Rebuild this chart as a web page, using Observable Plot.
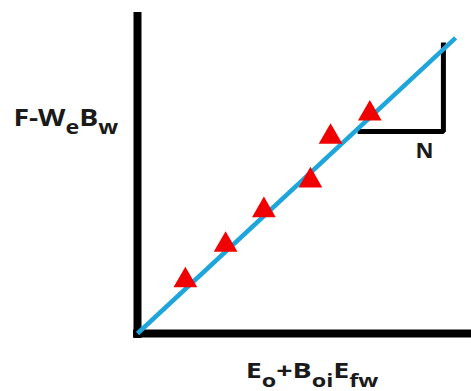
<!DOCTYPE html>
<html>
<head>
<meta charset="utf-8">
<script src="https://cdn.jsdelivr.net/npm/d3@7"></script>
<script src="https://cdn.jsdelivr.net/npm/@observablehq/plot@0.6"></script>
<style>
  html, body { margin: 0; padding: 0; background: #fff; }
  #chart svg { display: block; }
</style>
</head>
<body>
<div id="chart"></div>
<script>
// Data points (red triangles)
const pointX = [1.45, 2.67, 3.83, 5.24, 5.85, 7.04];
const pointY = [1.66, 2.77, 3.85, 4.78, 6.14, 6.87];
// Fitted straight line through origin
const fitX = [0, 9.64];
const fitY = [0, 9.24];
// Slope triangle (N)
const slopeX = [6.67, 9.27, 9.27];
const slopeY = [6.31, 6.31, 9.09];
// Labels split into [text, isSubscript]
const yLabelParts = [["F-W", 0], ["e", 1], ["B", 0], ["w", 1]];
const xLabelParts = [["E", 0], ["o", 1], ["+B", 0], ["oi", 1], ["E", 0], ["fw", 1]];
const slopeLabel = "N";

const points = pointX.map((x, i) => ({x, y: pointY[i]}));
const fit = fitX.map((x, i) => ({x, y: fitY[i]}));
const slope = slopeX.map((x, i) => ({x, y: slopeY[i]}));

const font = "'Open Sans', Lato, sans-serif";
const ink = "#1a1a1a";

const plot = Plot.plot({
  width: 471,
  height: 391,
  margin: 0,
  style: {background: "#fff", overflow: "visible"},
  x: {domain: [0, 10], range: [137, 467], axis: null},
  y: {domain: [0, 10], range: [333, 13], axis: null},
  marks: [
    Plot.ruleX([0], {y1: -0.16, y2: 10.03, stroke: "#000", strokeWidth: 8}),
    Plot.ruleY([0], {x1: -0.12, x2: 10.2, stroke: "#000", strokeWidth: 8}),
    Plot.line(slope, {x: "x", y: "y", stroke: "#000", strokeWidth: 5, strokeLinejoin: "miter", strokeLinecap: "butt"}),
    Plot.line(fit, {x: "x", y: "y", stroke: "#1ea6dc", strokeWidth: 4.5, strokeLinecap: "butt"}),
    Plot.dot(points, {x: "x", y: "y", symbol: "triangle", r: 8.8, fill: "#f00000", stroke: "none"}),
    Plot.text(["@N@"], {x: () => 8.70, y: () => 5.5, text: d => d, fontSize: 21, fontWeight: "bold", fontFamily: font, fill: ink, textAnchor: "middle", lineAnchor: "bottom"}),
    Plot.text(["@Y@"], {x: () => -3.76, y: () => 6.5, text: d => d, fontSize: 24, fontWeight: "bold", fontFamily: font, fill: ink, textAnchor: "start", lineAnchor: "bottom"}),
    Plot.text(["@X@"], {x: () => 5.29, y: () => -1.375, text: d => d, fontSize: 21, fontWeight: "bold", fontFamily: font, fill: ink, textAnchor: "middle", lineAnchor: "bottom"})
  ]
});

document.getElementById("chart").appendChild(plot);

function fillParts(key, parts, shift, length) {
  const t = d3.select(plot).selectAll("text").filter(function() { return this.textContent === key; });
  t.text(null);
  let sub = false;
  for (const [s, isSub] of parts) {
    const ts = t.append("tspan").text(s);
    if (isSub) {
      ts.attr("font-size", "0.82em");
      if (!sub) { ts.attr("dy", shift); sub = true; }
    } else if (sub) { ts.attr("dy", -shift); sub = false; }
  }
  const node = t.node();
  const w = node.getBBox().width;
  const sx = w > 0 ? length / w : 1;
  // the text mark positions each label by a translate on the text (or its group); add a horizontal stretch
  const tr = node.getAttribute("transform") || "";
  const x = +node.getAttribute("x") || 0;
  if (x) {
    node.setAttribute("transform", `${tr} translate(${x},0) scale(${sx},1) translate(${-x},0)`);
  } else {
    node.setAttribute("transform", `${tr} scale(${sx},1)`);
  }
}
fillParts("@Y@", yLabelParts, 8, 105);
fillParts("@X@", xLabelParts, 9, 133);
fillParts("@N@", [[slopeLabel, 0]], 0, 18);
</script>
</body>
</html>
